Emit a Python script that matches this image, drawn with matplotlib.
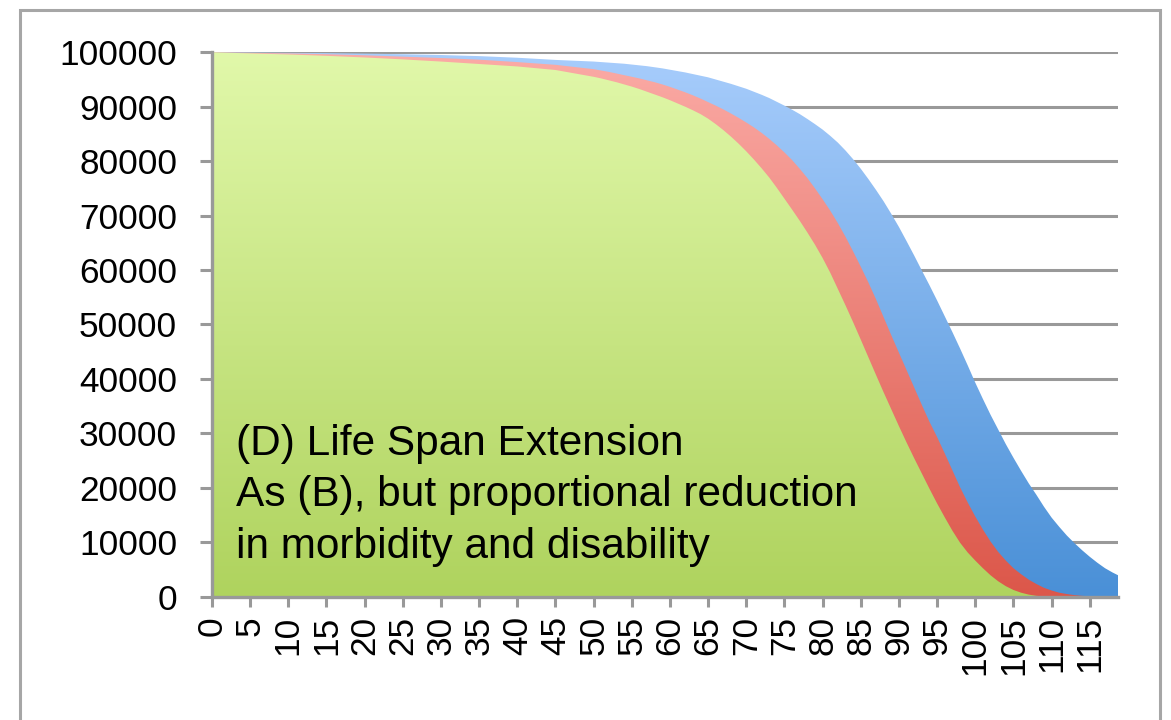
"""Survival curves, panel (D) life span extension - gradient filled areas."""
import numpy as np
import matplotlib
matplotlib.use("Agg")
import matplotlib.pyplot as plt
from matplotlib.colors import LinearSegmentedColormap
from matplotlib.patches import Polygon, Rectangle

plt.rcParams["font.family"] = ["Liberation Sans", "DejaVu Sans"]

# ages (years): 5-yearly up to 45, then every year
ages = list(range(0, 50, 5)) + list(range(50, 120))

# survivors out of 100000
survival_total = [
    100000, 99950, 99900, 99850, 99750, 99650, 99500, 99300, 99000, 98600,
    98300, 98200, 98100, 98000, 97900, 97750, 97600, 97450, 97250, 97050,
    96800, 96550, 96300, 96000, 95700, 95400, 95000, 94600, 94200, 93750,
    93300, 92750, 92200, 91600, 90900, 90200, 89450, 88650, 87750, 86800,
    85800, 84650, 83400, 81950, 80350, 78600, 76700, 74700, 72600, 70300,
    67900, 65300, 62650, 59900, 57200, 54400, 51500, 48600, 45600, 42500,
    39300, 36300, 33400, 30700, 28000, 25500, 23100, 20800, 18700, 16500,
    14500, 12800, 11200, 9800, 8500, 7300, 6200, 5200, 4400, 3700]
survival_nondisabled = [
    100000, 99900, 99800, 99650, 99450, 99200, 98950, 98650, 98200, 97700,
    96900, 96650, 96400, 96100, 95800, 95500, 95200, 94850, 94500, 94100,
    93650, 93150, 92650, 92100, 91500, 90850, 90200, 89500, 88750, 87950,
    87100, 86200, 85200, 84100, 82900, 81600, 80200, 78600, 76900, 75000,
    73000, 70900, 68600, 66100, 63400, 60600, 57700, 54600, 51300, 48000,
    44800, 41600, 38400, 35200, 32100, 29300, 26300, 23200, 20100, 17300,
    14700, 12300, 10100, 8200, 6600, 5200, 4100, 3100, 2300, 1600,
    1100, 700, 450, 250, 120, 40, 0, 0, 0, 0]
survival_healthy = [
    100000, 99800, 99600, 99350, 99050, 98700, 98300, 97850, 97400, 96750,
    95500, 95200, 94850, 94500, 94100, 93700, 93250, 92750, 92250, 91750,
    91200, 90600, 90000, 89350, 88650, 87800, 86800, 85700, 84500, 83200,
    81800, 80300, 78700, 77000, 75100, 73100, 71100, 69050, 66900, 64650,
    62200, 59500, 56500, 53500, 50400, 47200, 43950, 40700, 37500, 34400,
    31300, 28300, 25400, 22600, 19800, 17100, 14550, 12100, 9900, 8100,
    6600, 5200, 3900, 2800, 1900, 1200, 700, 350, 120, 30,
    0, 0, 0, 0, 0, 0, 0, 0, 0, 0]

x_ticks = list(range(0, 120, 5))
y_ticks = list(range(0, 100001, 10000))
label = ("(D) Life Span Extension\n"
         "As (B), but proportional reduction\n"
         "in morbidity and disability")

XMAX = 118.7
YMAX = 100000
GREY = "#999999"


def gradient_area(ax, x, y, top, bottom, z):
    """Fill under the curve with a vertical gradient (light at top)."""
    x = np.asarray(x, float)
    y = np.asarray(y, float)
    verts = np.column_stack([np.r_[x, x[::-1]], np.r_[y, np.zeros_like(y)]])
    clip = Polygon(verts, closed=True, facecolor="none", edgecolor="none",
                   transform=ax.transData)
    ax.add_patch(clip)
    cmap = LinearSegmentedColormap.from_list("g", [bottom, top])
    grad = np.linspace(0, 1, 256).reshape(-1, 1)
    im = ax.imshow(grad, cmap=cmap, origin="lower", aspect="auto",
                   extent=[0, XMAX, 0, YMAX], zorder=z, interpolation="bicubic")
    im.set_clip_path(clip)


fig = plt.figure(figsize=(11.71, 7.20), dpi=100)
ax = fig.add_axes([212 / 1171, 123.5 / 720, 906 / 1171, 544.2 / 720])

gradient_area(ax, ages, survival_total, "#a8cdfc", "#4a90d7", 2)
gradient_area(ax, ages, survival_nondisabled, "#fbaba6", "#dc574a", 3)
gradient_area(ax, ages, survival_healthy, "#e1f8aa", "#afd35e", 4)

ax.set_xlim(0, XMAX)
ax.set_ylim(0, YMAX)
ax.set_xticks(x_ticks)
ax.set_xticklabels([str(t) for t in x_ticks], rotation=90, fontsize=25.4)
ax.set_yticks(y_ticks)
ax.set_yticklabels([str(t) for t in y_ticks], fontsize=25.4)
ax.tick_params(axis="y", length=8.6, width=2.2, color=GREY, pad=16.5)
ax.tick_params(axis="x", length=7, width=2.2, color=GREY, pad=7)
ax.grid(axis="y", color=GREY, lw=2.2, zorder=0)
ax.set_axisbelow(True)
for side in ("top", "right"):
    ax.spines[side].set_visible(False)
for side in ("left", "bottom"):
    ax.spines[side].set_color(GREY)
    ax.spines[side].set_linewidth(2.4)
    ax.spines[side].set_zorder(6)

ax.text(0.027, 0.317, label, transform=ax.transAxes, fontsize=30.5,
        va="top", ha="left", linespacing=1.37, zorder=7)

# light grey frame round the whole chart (open at the bottom edge)
fig.patches.append(Rectangle((20 / 1171, -0.1), 1140 / 1171, 1.1 - 10 / 720,
                             transform=fig.transFigure, fill=False,
                             edgecolor="#a6a6a6", lw=2.2))

fig.savefig("out.png", dpi=100)
